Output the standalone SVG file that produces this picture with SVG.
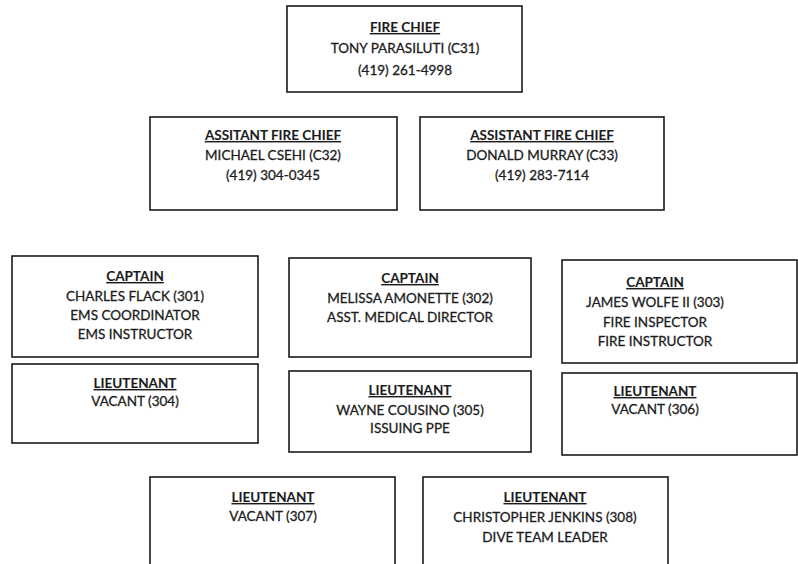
<svg xmlns="http://www.w3.org/2000/svg" width="798" height="564" viewBox="0 0 798 564">
<style>
.box{fill:#fff;stroke:#1a1a1a;stroke-width:1.6}
text{font-family:Lato,"Open Sans","Liberation Sans",sans-serif;font-size:13.5px;fill:#1c1c1c;stroke:#1c1c1c;stroke-width:0.3;text-anchor:middle}
.t{font-weight:bold;text-decoration:underline;stroke-width:0.1}
</style>
<rect width="798" height="564" fill="#fff"/>
<g id="connectors"></g>
<g id="fire-chief">
<rect class="box" x="287" y="6" width="235" height="86"/>
<text class="t" x="405" y="32">FIRE CHIEF</text>
<text x="405" y="53">TONY PARASILUTI (C31)</text>
<text x="405" y="75">(419) 261-4998</text>
</g>
<g id="asst-chief-1">
<rect class="box" x="150" y="117" width="247" height="93"/>
<text class="t" x="273" y="140">ASSITANT FIRE CHIEF</text>
<text x="273" y="160">MICHAEL CSEHI (C32)</text>
<text x="273" y="180">(419) 304-0345</text>
</g>
<g id="asst-chief-2">
<rect class="box" x="420" y="117" width="244" height="93"/>
<text class="t" x="542" y="140">ASSISTANT FIRE CHIEF</text>
<text x="542" y="160">DONALD MURRAY (C33)</text>
<text x="542" y="180">(419) 283-7114</text>
</g>
<g id="captain-301">
<rect class="box" x="12" y="256" width="246" height="101"/>
<text class="t" x="135" y="281">CAPTAIN</text>
<text x="135" y="301">CHARLES FLACK (301)</text>
<text x="135" y="320">EMS COORDINATOR</text>
<text x="135" y="339">EMS INSTRUCTOR</text>
</g>
<g id="captain-302">
<rect class="box" x="289" y="258" width="242" height="99"/>
<text class="t" x="410" y="283">CAPTAIN</text>
<text x="410" y="303">MELISSA AMONETTE (302)</text>
<text x="410" y="322">ASST. MEDICAL DIRECTOR</text>
</g>
<g id="captain-303">
<rect class="box" x="562" y="260" width="235" height="103"/>
<text class="t" x="655" y="287">CAPTAIN</text>
<text x="655" y="307">JAMES WOLFE II (303)</text>
<text x="655" y="327">FIRE INSPECTOR</text>
<text x="655" y="346">FIRE INSTRUCTOR</text>
</g>
<g id="lieutenant-304">
<rect class="box" x="12" y="364" width="246" height="79"/>
<text class="t" x="135" y="388">LIEUTENANT</text>
<text x="135" y="406">VACANT (304)</text>
</g>
<g id="lieutenant-305">
<rect class="box" x="289" y="371" width="242" height="81"/>
<text class="t" x="410" y="395">LIEUTENANT</text>
<text x="410" y="415">WAYNE COUSINO (305)</text>
<text x="410" y="433">ISSUING PPE</text>
</g>
<g id="lieutenant-306">
<rect class="box" x="562" y="373" width="235" height="82"/>
<text class="t" x="655" y="396">LIEUTENANT</text>
<text x="655" y="414">VACANT (306)</text>
</g>
<g id="lieutenant-307">
<rect class="box" x="150" y="477" width="245" height="90"/>
<text class="t" x="273" y="502">LIEUTENANT</text>
<text x="273" y="521">VACANT (307)</text>
</g>
<g id="lieutenant-308">
<rect class="box" x="423" y="477" width="245" height="90"/>
<text class="t" x="545" y="502">LIEUTENANT</text>
<text x="545" y="522">CHRISTOPHER JENKINS (308)</text>
<text x="545" y="542">DIVE TEAM LEADER</text>
</g>
</svg>
